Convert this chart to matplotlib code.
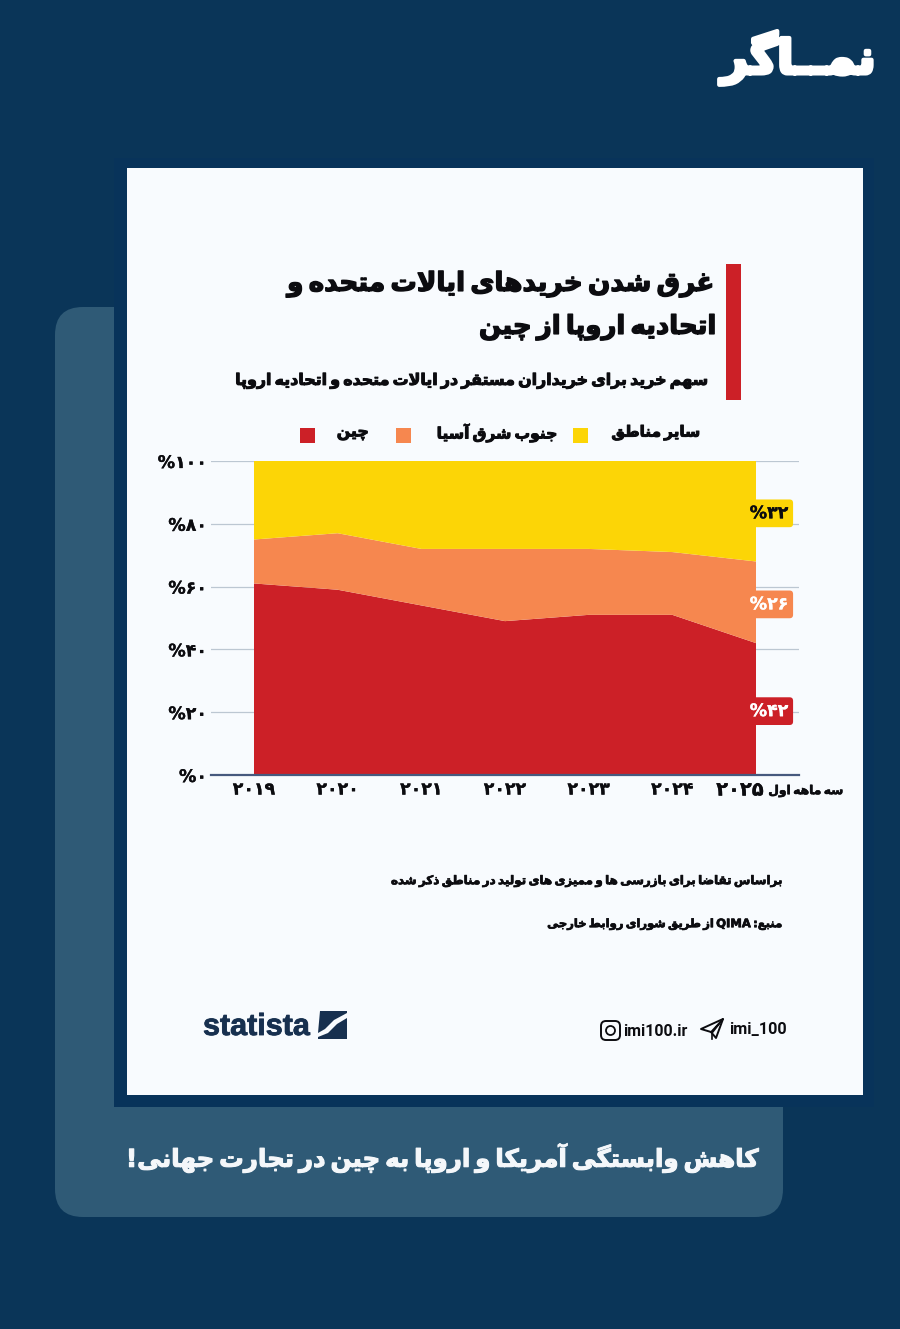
#!/usr/bin/env python3
import re
import unicodedata
import numpy as np
import matplotlib
matplotlib.use('Agg')
import matplotlib.pyplot as plt
import matplotlib.patheffects as pe
from matplotlib.patches import FancyBboxPatch, Rectangle, Polygon, Circle
from matplotlib.transforms import ScaledTranslation

years = ['۲۰۱۹', '۲۰۲۰', '۲۰۲۱', '۲۰۲۲', '۲۰۲۳', '۲۰۲۴', '۲۰۲۵']
china = [61, 59, 54, 49, 51, 51, 42]
se_asia = [14, 18, 18, 23, 21, 20, 26]
other = [25, 23, 28, 28, 28, 29, 32]
y_ticks = [0, 20, 40, 60, 80, 100]
y_tick_labels = ['%۰', '%۲۰', '%۴۰', '%۶۰', '%۸۰', '%۱۰۰']
end_labels = ['%۴۲', '%۲۶', '%۳۲']
series_names = ['چین', 'جنوب شرق آسیا', 'سایر مناطق']

RED, ORANGE, YELLOW = '#cc2027', '#f6874f', '#fcd506'
NAVY = '#0a3558'
INK = '#0c0c10'

# matplotlib has no arabic shaping, so build the forms table from unicodedata
FORMS = {}
for cp in list(range(0xFB50, 0xFE00)) + list(range(0xFE70, 0xFEFF)):
    d = unicodedata.decomposition(chr(cp)).split()
    if len(d) == 2 and d[0] in ('<isolated>', '<final>', '<initial>', '<medial>'):
        FORMS.setdefault((chr(int(d[1], 16)), d[0][1:-1]), chr(cp))
KASHIDA = '\u0640'

def is_dual(c):
    return c == KASHIDA or (c, 'initial') in FORMS

def is_letter(c):
    return c == KASHIDA or (c, 'isolated') in FORMS

def shape(text):
    out = []
    i = 0
    n = len(text)
    while i < n:
        c = text[i]
        prev_ok = i > 0 and is_dual(text[i - 1])
        nxt = text[i + 1] if i + 1 < n else ' '
        if c == 'ل' and nxt in 'اآ':
            lig = {('ا', False): '\ufefb', ('ا', True): '\ufefc', ('آ', False): '\ufef5', ('آ', True): '\ufef6'}
            out.append(lig[(nxt, prev_ok)])
            i += 2
            continue
        if c == KASHIDA or not is_letter(c):
            out.append(c)
        else:
            next_ok = is_letter(nxt)
            if prev_ok and next_ok and is_dual(c):
                form = 'medial'
            elif prev_ok:
                form = 'final'
            elif next_ok and is_dual(c):
                form = 'initial'
            else:
                form = 'isolated'
            out.append(FORMS[(c, form)])
        i += 1
    s = ''.join(out)
    runs = re.split(r'([A-Za-z0-9_.]+)', s)
    return ''.join(r if re.fullmatch(r'[A-Za-z0-9_.]+', r) else r[::-1] for r in runs[::-1])

def heavy(color, lw=0.7):
    return [pe.withStroke(linewidth=lw, foreground=color)]

fig = plt.figure(figsize=(9, 13.29), dpi=100, facecolor=NAVY)
renderer = fig.canvas.get_renderer()

# whole page in pixel coordinates for the decoration
bg = fig.add_axes([0, 0, 1, 1])
bg.set_xlim(0, 900)
bg.set_ylim(1329, 0)
bg.axis('off')

bg.add_patch(FancyBboxPatch((55, 307), 728, 910, boxstyle='round,pad=0,rounding_size=28', fc='#2f5a76', ec='none'))
bg.add_patch(Rectangle((114, 158), 760, 949, fc='#08335a', ec='none'))
bg.add_patch(Rectangle((127, 168), 736, 927, fc='#f8fbfe', ec='none'))
bg.add_patch(Rectangle((726, 264), 15, 136, fc=RED, ec='none'))

def fit(t, width):
    # scale the font so the text takes the same width as in the picture
    t.set_fontsize(t.get_fontsize() * width / t.get_window_extent(renderer).width)

def rtl(x, y, txt, width, color=INK, lw=0.7):
    t = bg.text(x, y, shape(txt).replace(' ', '\u2009'), fontsize=12, color=color, ha='right', va='center',
                fontweight='bold', family='DejaVu Sans')
    fit(t, width)
    t.set_path_effects(heavy(color, lw))
    return t

rtl(875, 58, 'نمــاگر', 155, color='white', lw=3)
rtl(715, 284, 'غرق شدن خریدهای ایالات متحده و', 427, lw=1)
rtl(715, 327, 'اتحادیه اروپا از چین', 237, lw=1)
rtl(709, 381, 'سهم خرید برای خریداران مستقر در ایالات متحده و اتحادیه اروپا', 473)
rtl(757, 1158, 'کاهش وابستگی آمریکا و اروپا به چین در تجارت جهانی!', 633, color='#f4f7fa', lw=0.8)
rtl(783, 881, 'براساس تقاضا برای بازرسی ها و ممیزی های تولید در مناطق ذکر شده', 392, lw=0.5)
rtl(784, 924, 'منبع: QIMA از طریق شورای روابط خارجی', 235, lw=0.5)

# legend
for x, col in zip([307, 403, 580], [RED, ORANGE, YELLOW]):
    bg.add_patch(Rectangle((x - 7.5, 428), 15, 15, fc=col, ec='none'))
for x, name, w in zip([369, 557, 700], series_names, [32, 121, 89]):
    rtl(x, 433, name, w)

# the chart itself
ax = fig.add_axes([211 / 900, 1 - 775 / 1329, (799 - 211) / 900, (775 - 461) / 1329])
ax.set_facecolor('none')
xs = np.arange(len(years))
ax.stackplot(xs, china, se_asia, other, colors=[RED, ORANGE, YELLOW], linewidth=0, zorder=3)
ax.set_xlim(-43 / 83.67, 6 + 43 / 83.67)
ax.set_ylim(0, 100)
ax.set_yticks(y_ticks)
ax.set_yticklabels(y_tick_labels, fontsize=12.5, fontweight='bold', color=INK, path_effects=heavy(INK, 0.2))
ax.set_xticks(xs)
ax.set_xticklabels(years, fontsize=12.5, fontweight='bold', color=INK, path_effects=heavy(INK, 0.2))
ax.tick_params(length=0, pad=3)
ax.tick_params(axis='x', pad=4)
# last year label is pushed left to leave room for the quarter note
last = ax.get_xticklabels()[-1]
last.set_transform(last.get_transform() + ScaledTranslation(-16 / 100, 0, fig.dpi_scale_trans))
last.set_fontsize(14)
ax.grid(axis='y', color='#bcc7d2', lw=0.9, zorder=1)
ax.set_axisbelow(True)
for side in ('top', 'left', 'right'):
    ax.spines[side].set_visible(False)
ax.spines['bottom'].set_color('#46597e')
ax.spines['bottom'].set_linewidth(1.6)
ax.spines['bottom'].set_zorder(5)

# end labels sit in the middle of each band
bottom = 0
for val, lab, col, tcol in zip([china[-1], se_asia[-1], other[-1]], end_labels, [RED, ORANGE, YELLOW], ['white', 'white', INK]):
    ax.annotate(lab, (6.155, bottom + val / 2), xytext=(0, -1.5), textcoords='offset points', fontsize=12.5, fontweight='bold',
                color=tcol, ha='center', va='center', zorder=6, path_effects=heavy(tcol, 0.2),
                bbox=dict(boxstyle='round,pad=0.28,rounding_size=0.2', fc=col, ec='none'))
    bottom += val

rtl(843, 791, 'سه ماهه اول', 75, lw=0.4)

# footer
t = bg.text(203, 1027, 'statista', fontsize=28, fontweight='bold', color='#17304f', ha='left', va='center',
            family=['Liberation Sans Narrow', 'Liberation Sans'], path_effects=heavy('#17304f', 0.6))
fit(t, 107)
bg.add_patch(Polygon([[320, 1011], [347, 1011], [347, 1013], [334, 1020], [325, 1029], [318, 1033]], fc='#17304f', ec='none'))
bg.add_patch(Polygon([[347, 1018], [347, 1039], [318, 1039], [318, 1037], [328, 1033], [337, 1024]], fc='#17304f', ec='none'))
bg.add_patch(FancyBboxPatch((601, 1021), 19, 19, boxstyle='round,pad=0,rounding_size=5', fc='none', ec=INK, lw=1.4))
bg.add_patch(Circle((610.5, 1030.5), 4.5, fc='none', ec=INK, lw=1.3))
t = bg.text(623, 1032, 'imi100.ir', fontsize=10.5, fontweight='bold', color=INK, ha='left', va='center', family='Roboto')
fit(t, 65)
bg.add_patch(Polygon([[701, 1029], [723, 1019], [716, 1038], [711, 1032]], fc='none', ec=INK, lw=1.4, joinstyle='round'))
bg.plot([711, 723, 712, 712], [1032, 1019, 1033, 1039], color=INK, lw=1.2)
t = bg.text(787, 1030, 'imi_100', fontsize=10.5, fontweight='bold', color=INK, ha='right', va='center', family='Roboto')
fit(t, 58)

fig.savefig('out.png', dpi=100, facecolor=fig.get_facecolor())
